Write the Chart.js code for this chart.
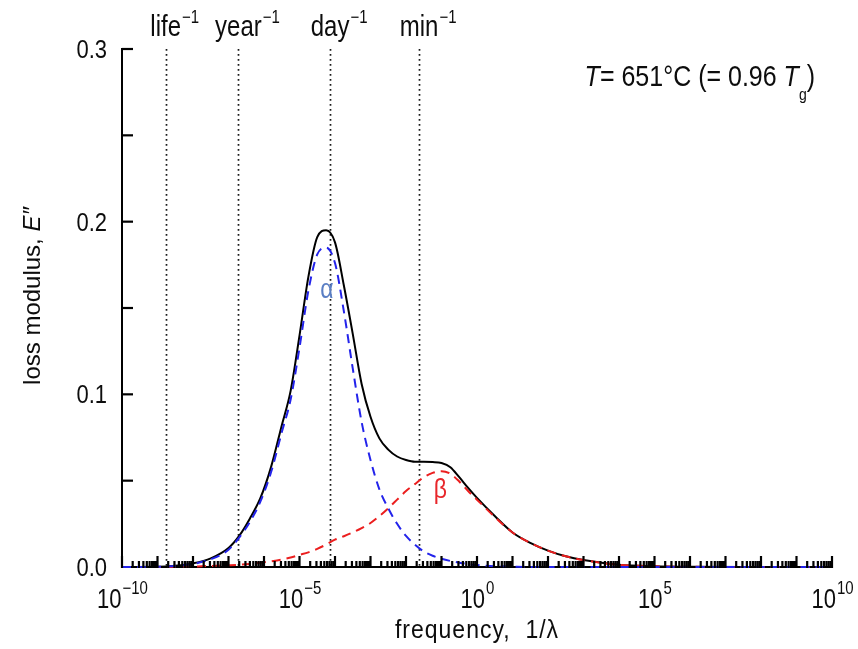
<!DOCTYPE html>
<html>
<head>
<meta charset="utf-8">
<script src="https://cdn.jsdelivr.net/npm/chart.js@4/dist/chart.umd.min.js"></script>
<style>
  html, body { margin: 0; padding: 0; background: #fff; }
  #lossChart { display: block; }
</style>
</head>
<body>
<canvas id="lossChart" width="858" height="649"></canvas>
<script>
// frequency grid, as log10 exponents of 1/lambda
const freqExp = [-10, -9, -8.5, -8, -7.5, -7, -6.7, -6.4, -6.1, -5.8, -5.5, -5.25, -5.0, -4.75, -4.5, -4.25,
    -4.0, -3.75, -3.5, -3.25, -3.0, -2.75, -2.5, -2.25, -2.0, -1.75, -1.5, -1.25, -1.0, -0.75, -0.5, -0.25,
    0, 0.5, 1, 1.5, 2, 2.5, 3, 4, 5, 6, 8, 10];

// alpha relaxation (blue dashed)
const alphaLoss = [0, 0.0001, 0.0006, 0.0018, 0.0045, 0.010, 0.017, 0.026, 0.038, 0.055, 0.078, 0.097, 0.127, 0.160, 0.181, 0.185,
    0.176, 0.148, 0.115, 0.084, 0.062, 0.045, 0.034, 0.025, 0.018, 0.013, 0.009, 0.0065, 0.0048, 0.0035, 0.0025, 0.0017,
    0.0011, 0.0005, 0.0002, 0, 0, 0, 0, 0, 0, 0, 0, 0];

// beta relaxation (red dashed)
const betaLoss = [0, 0, 0.0001, 0.0003, 0.0006, 0.001, 0.0013, 0.0018, 0.0025, 0.0033, 0.0043, 0.0055, 0.007, 0.0085, 0.0105, 0.013,
    0.0158, 0.0178, 0.020, 0.0225, 0.0255, 0.0295, 0.034, 0.039, 0.044, 0.048, 0.052, 0.0545, 0.0555, 0.054, 0.0495, 0.044,
    0.039, 0.029, 0.020, 0.014, 0.0095, 0.0062, 0.004, 0.0013, 0.0004, 0.0001, 0, 0];

// total loss modulus (black solid)
const totalLoss = [0, 0.0001, 0.0007, 0.0021, 0.005, 0.011, 0.018, 0.028, 0.040, 0.058, 0.082, 0.102, 0.134, 0.168, 0.191, 0.195,
    0.188, 0.163, 0.135, 0.106, 0.087, 0.0745, 0.068, 0.064, 0.062, 0.061, 0.061, 0.0608, 0.0602, 0.0578, 0.052, 0.0458,
    0.040, 0.0295, 0.020, 0.014, 0.0095, 0.0062, 0.004, 0.0013, 0.0004, 0.0001, 0, 0];

// reference time scales (dotted lines)
const markerExp = [-8.77, -6.72, -4.14, -1.63];
const markerNames = ['life', 'year', 'day', 'min'];

// axis tick labels
const decadeExp = [-10, -5, 0, 5, 10];
const decadeText = ['\u221210', '\u22125', '0', '5', '10'];
const yTickValues = [0, 0.1, 0.2, 0.3];

// curve labels
const curveLabels = [
    { text: '\u03b1', exp: -4.23, value: 0.156, color: '#5a7ec4' },
    { text: '\u03b2', exp: -1.03, value: 0.040, color: '#e8262a' }
];

const FONT = 'Arial, "Liberation Sans", sans-serif';
const INK = '#0d0d0d';

function toPoints(vals) {
    return freqExp.map((e, i) => ({ x: Math.pow(10, e), y: vals[i] }));
}

// text with a slight vertical stretch, as in the source figure
function tallText(ctx, text, x, y, size, opts) {
    opts = opts || {};
    ctx.save();
    ctx.font = (opts.italic ? 'italic ' : '') + size + 'px ' + FONT;
    ctx.fillStyle = opts.color || INK;
    ctx.textAlign = opts.align || 'left';
    ctx.textBaseline = 'alphabetic';
    if (opts.spacing) ctx.letterSpacing = opts.spacing + 'px';
    ctx.translate(x, y);
    ctx.scale(1, opts.sy || 1.22);
    ctx.fillText(text, 0, 0);
    ctx.restore();
}

function widthOf(ctx, text, size, italic) {
    ctx.save();
    ctx.font = (italic ? 'italic ' : '') + size + 'px ' + FONT;
    const w = ctx.measureText(text).width;
    ctx.restore();
    return w;
}

const decorPlugin = {
    id: 'decor',
    beforeDatasetsDraw(chart) {
        const { ctx, chartArea, scales: { x } } = chart;
        ctx.save();
        ctx.strokeStyle = '#1a1a1a';
        ctx.lineWidth = 1.7;
        ctx.setLineDash([1.7, 3.3]);
        markerExp.forEach(e => {
            const px = Math.round(x.getPixelForValue(Math.pow(10, e))) + 0.5;
            ctx.beginPath();
            ctx.moveTo(px, chartArea.top);
            ctx.lineTo(px, chartArea.bottom);
            ctx.stroke();
        });
        ctx.restore();
    },
    afterDatasetsDraw(chart) {
        const { ctx, chartArea, scales: { x, y } } = chart;
        const bottom = chartArea.bottom;
        const left = chartArea.left;

        // inward ticks on the x axis (decades + minors)
        ctx.save();
        ctx.strokeStyle = '#000';
        ctx.lineWidth = 2.2;
        for (let d = -10; d <= 10; d++) {
            const px = x.getPixelForValue(Math.pow(10, d));
            ctx.beginPath();
            ctx.moveTo(px, bottom + 1);
            ctx.lineTo(px, bottom - 11);
            ctx.stroke();
            if (d === 10) break;
            for (let m = 2; m <= 9; m++) {
                const mx = x.getPixelForValue(m * Math.pow(10, d));
                ctx.beginPath();
                ctx.moveTo(mx, bottom + 1);
                ctx.lineTo(mx, bottom - 6);
                ctx.stroke();
            }
        }
        // inward ticks on the y axis
        [0.05, 0.1, 0.15, 0.2, 0.25, 0.3].forEach(v => {
            const py = y.getPixelForValue(v);
            ctx.beginPath();
            ctx.moveTo(left, py);
            ctx.lineTo(left + 11, py);
            ctx.stroke();
        });
        ctx.restore();

        // y tick labels
        yTickValues.forEach(v => {
            const py = y.getPixelForValue(v);
            tallText(ctx, v.toFixed(1), left - 15, py + 9, 22, { align: 'right', sy: 1.2 });
        });

        // x decade labels 10^n
        decadeExp.forEach((e, i) => {
            const px = x.getPixelForValue(Math.pow(10, e));
            const wBase = widthOf(ctx, '10', 22);
            const wSup = widthOf(ctx, decadeText[i], 15);
            const start = px - (wBase + wSup) / 2;
            tallText(ctx, '10', start, 608, 22, { sy: 1.25 });
            tallText(ctx, decadeText[i], start + wBase + 1, 594, 15, { sy: 1.2 });
        });

        // axis titles
        tallText(ctx, 'frequency,  1/\u03bb', (chartArea.left + chartArea.right) / 2, 638, 23, { align: 'center', spacing: 1, sy: 1.15 });
        ctx.save();
        ctx.translate(40, 296);
        ctx.rotate(-Math.PI / 2);
        ctx.fillStyle = INK;
        ctx.textBaseline = 'alphabetic';
        const t1 = 'loss modulus, ';
        const t2 = 'E\u2033';
        ctx.font = 'italic 24px ' + FONT;
        const w2 = ctx.measureText(t2).width;
        ctx.font = '24px ' + FONT;
        const w1 = ctx.measureText(t1).width;
        ctx.fillText(t1, -(w1 + w2) / 2, 0);
        ctx.font = 'italic 24px ' + FONT;
        ctx.fillText(t2, -(w1 + w2) / 2 + w1, 0);
        ctx.restore();

        // time-scale labels above the dotted lines
        markerExp.forEach((e, i) => {
            const px = x.getPixelForValue(Math.pow(10, e));
            const w = widthOf(ctx, markerNames[i], 24);
            tallText(ctx, markerNames[i], px - w / 2, 36, 24, { sy: 1.2 });
            tallText(ctx, '\u22121', px + w / 2 + 1, 23, 15, { sy: 1.2 });
        });

        // temperature note
        const parts = [
            { t: 'T', s: 25, it: true, dy: 0 },
            { t: '= 651\u00b0C (= 0.96 ', s: 25, it: false, dy: 0 },
            { t: 'T', s: 25, it: true, dy: 0 },
            { t: 'g', s: 14, it: false, dy: 14 },
            { t: ')', s: 25, it: false, dy: 0 }
        ];
        let total = 0;
        parts.forEach(p => { p.w = widthOf(ctx, p.t, p.s, p.it); total += p.w; });
        let cx = chartArea.right - 17 - total;
        parts.forEach(p => {
            tallText(ctx, p.t, cx, 86 + p.dy, p.s, { italic: p.it, sy: 1.15 });
            cx += p.w;
        });

        // curve labels
        curveLabels.forEach(c => {
            const px = x.getPixelForValue(Math.pow(10, c.exp));
            const py = y.getPixelForValue(c.value);
            tallText(ctx, c.text, px, py, 23, { align: 'center', color: c.color, sy: 1.2 });
        });
    }
};

const ctx = document.getElementById('lossChart').getContext('2d');
const lossChart = new Chart(ctx, {
    type: 'line',
    data: {
        datasets: [
            {
                label: 'alpha',
                data: toPoints(alphaLoss),
                borderColor: 'rgb(35, 35, 235)',
                borderWidth: 2,
                borderDash: [9, 6],
                pointRadius: 0,
                cubicInterpolationMode: 'monotone',
                fill: false,
                clip: false
            },
            {
                label: 'beta',
                data: toPoints(betaLoss),
                borderColor: 'rgb(235, 30, 30)',
                borderWidth: 2,
                borderDash: [9, 6],
                pointRadius: 0,
                cubicInterpolationMode: 'monotone',
                fill: false,
                clip: false
            },
            {
                label: 'total',
                data: toPoints(totalLoss),
                borderColor: '#000',
                borderWidth: 2,
                pointRadius: 0,
                cubicInterpolationMode: 'monotone',
                fill: false,
                clip: false
            }
        ]
    },
    options: {
        responsive: false,
        animation: false,
        devicePixelRatio: 1,
        layout: { padding: { top: 49, right: 26, left: 0, bottom: 0 } },
        plugins: {
            legend: { display: false },
            tooltip: { enabled: false }
        },
        scales: {
            x: {
                type: 'logarithmic',
                min: 1e-10,
                max: 1e10,
                ticks: { display: false },
                grid: { display: false, drawTicks: false },
                border: { display: true, color: '#000', width: 2 },
                afterFit: s => { s.height = 82; }
            },
            y: {
                min: 0,
                max: 0.3,
                ticks: { display: false, stepSize: 0.1 },
                grid: { display: false, drawTicks: false },
                border: { display: true, color: '#000', width: 2 },
                afterFit: s => { s.width = 122; }
            }
        }
    },
    plugins: [decorPlugin]
});
</script>
</body>
</html>
